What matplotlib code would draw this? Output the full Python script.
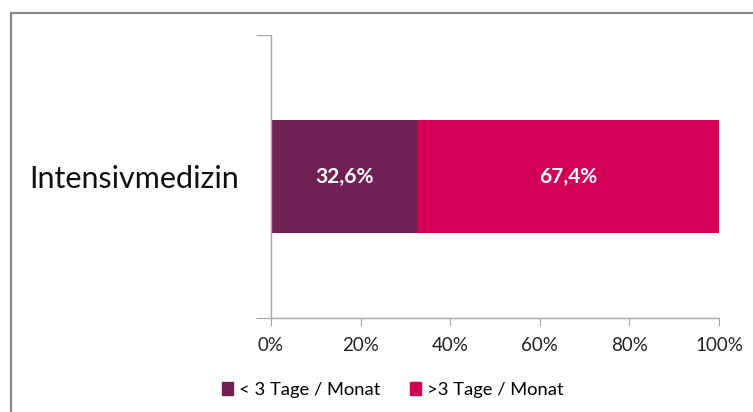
import matplotlib.pyplot as plt
from matplotlib.patches import Patch, Rectangle

# data
categories = ["Intensivmedizin"]
series_names = ["< 3 Tage / Monat", ">3 Tage / Monat"]
short_share = [32.6]
long_share = [67.4]
tick_values = [0, 20, 40, 60, 80, 100]
colors = ["#702052", "#D40057"]

plt.rcParams['font.family'] = ['Lato', 'DejaVu Sans']

W, H = 753, 412
fig = plt.figure(figsize=(W / 100, H / 100), dpi=100)

# chart area border (clipped on right and bottom as in the screenshot)
fig.patches.append(Rectangle((11 / W, -0.1), 1.2, (H - 13) / H + 0.1,
                             transform=fig.transFigure, fill=False,
                             edgecolor="#868686", linewidth=1.5))

ax = fig.add_axes([271 / W, (H - 318) / H, 448 / W, 283 / H])

ax.barh(range(len(categories)), short_share, height=0.4, color=colors[0])
ax.barh(range(len(categories)), long_share, left=short_share, height=0.4, color=colors[1])

for i in range(len(categories)):
    ax.text(short_share[i] / 2, i, f"{short_share[i]:.1f}%".replace(".", ","),
            ha="center", va="center", color="white", fontsize=15, fontweight="bold")
    ax.text(short_share[i] + long_share[i] / 2, i, f"{long_share[i]:.1f}%".replace(".", ","),
            ha="center", va="center", color="white", fontsize=15, fontweight="bold")

ax.set_xlim(0, 100)
ax.set_ylim(-0.5, 0.5)
ax.set_xticks(tick_values, [f"{t}%" for t in tick_values])
ax.set_yticks([-0.5, 0.5], ["", ""])
ax.set_yticks([0], categories, minor=True)

for s in ["top", "right"]:
    ax.spines[s].set_visible(False)
for s in ["left", "bottom"]:
    ax.spines[s].set_color("#A6A6A6")
    ax.spines[s].set_linewidth(1.0)

ax.tick_params(axis="x", which="major", length=6, color="#A6A6A6", labelsize=13.5,
               labelcolor="#222222", pad=8)
ax.tick_params(axis="y", which="major", length=11, color="#A6A6A6")
ax.tick_params(axis="y", which="minor", length=0, pad=23, labelsize=22, labelcolor="#111111")

handles = [Patch(color=c) for c in colors]
fig.legend(handles, series_names, loc="center", bbox_to_anchor=(393 / W, 22 / H),
           ncol=2, frameon=False, fontsize=13.2, handlelength=0.6, handleheight=0.7,
           handletextpad=0.35, columnspacing=1.6)

fig.savefig("out.png", dpi=100)
